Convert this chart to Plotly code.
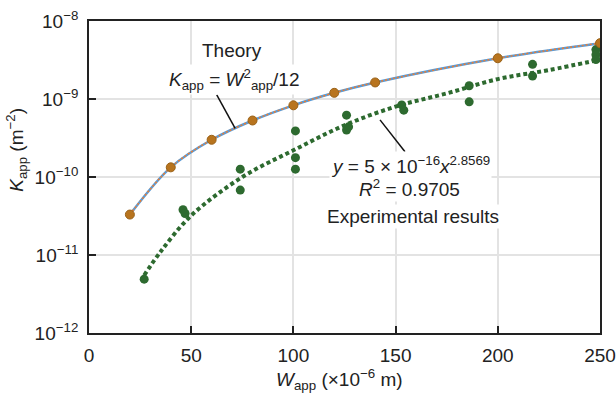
import plotly.graph_objects as go

# ---- data ----
theory_w = [20, 40, 60, 80, 100, 120, 140, 200, 250]
theory_k = [3.3e-11, 1.33e-10, 3.0e-10, 5.3e-10, 8.3e-10, 1.2e-9, 1.63e-9, 3.33e-9, 5.2e-9]

exp_w = [27, 46, 47, 74, 74, 101, 101, 101, 126, 126, 127, 153, 154, 186, 186, 217, 217, 248, 248, 248]
exp_k = [4.9e-12, 3.8e-11, 3.4e-11, 1.26e-10, 6.8e-11, 3.9e-10, 1.77e-10, 1.26e-10,
         6.2e-10, 4.0e-10, 4.4e-10, 8.4e-10, 7.2e-10, 1.48e-9, 9.2e-10, 2.78e-9, 1.97e-9,
         4.3e-9, 3.7e-9, 3.2e-9]

trend_w = [27, 35, 50, 75, 100, 125, 150, 175, 200, 225, 250]
trend_k = [5.5e-12, 1.1e-11, 3.2e-11, 1.0e-10, 2.2e-10, 4.6e-10, 8.0e-10, 1.18e-9, 1.8e-9, 2.35e-9, 3.2e-9]

x_ticks = [0, 50, 100, 150, 200, 250]
y_ticks = [1e-12, 1e-11, 1e-10, 1e-9, 1e-8]
y_ticktext = ["10<sup>−12</sup>", "10<sup>−11</sup>", "10<sup>−10</sup>", "10<sup>−9</sup>", "10<sup>−8</sup>"]

FONT = "Liberation Sans, Arial, Helvetica, sans-serif"
GREEN = "#2d6a2f"
ORANGE_PT = "#b8741e"
BLUE = "#5b9bd5"
ORANGE_LN = "#ed7d31"

fig = go.Figure()

# experimental trend line (dotted green)
fig.add_trace(go.Scatter(x=trend_w, y=trend_k, mode="lines",
                         line=dict(color=GREEN, width=4, dash="4px,3px", shape="spline"),
                         hoverinfo="skip", showlegend=False))
# experimental points
fig.add_trace(go.Scatter(x=exp_w, y=exp_k, mode="markers",
                         marker=dict(color=GREEN, size=9, line=dict(width=0)),
                         showlegend=False))
# theory line: blue solid + orange dotted overlay
fig.add_trace(go.Scatter(x=theory_w, y=theory_k, mode="lines",
                         line=dict(color=BLUE, width=2.5, shape="spline"),
                         hoverinfo="skip", showlegend=False))
fig.add_trace(go.Scatter(x=theory_w, y=theory_k, mode="lines",
                         line=dict(color=ORANGE_LN, width=1.5, dash="2px,2px", shape="spline"),
                         hoverinfo="skip", showlegend=False))
# theory points
fig.add_trace(go.Scatter(x=theory_w, y=theory_k, mode="markers",
                         marker=dict(color=ORANGE_PT, size=9, line=dict(color="#9a6218", width=1)),
                         showlegend=False))

axis_common = dict(showline=True, linecolor="#222222", linewidth=1.8, mirror=True,
                   ticks="inside", ticklen=7, tickwidth=1.5, tickcolor="#222222",
                   showgrid=True, gridcolor="#e3e3e3", gridwidth=2, zeroline=False,
                   automargin=False,
                   tickfont=dict(family=FONT, size=19, color="#222222"))

fig.update_xaxes(range=[0, 250], tickvals=x_ticks, ticklabelstandoff=4, **axis_common)
fig.update_yaxes(type="log", range=[-12, -8], tickvals=y_ticks, ticktext=y_ticktext,
                 ticklabelstandoff=5, **axis_common)

ann_font = dict(family=FONT, size=19, color="#222222")
annotations = [
    dict(text="Theory", x=0.280, y=0.907),
    dict(text="<i>K</i><sub>app</sub> = <i>W</i><sup>2</sup><sub>app</sub>/12", x=0.283, y=0.812),
    dict(text="<i>y</i> = 5 × 10<sup>−16</sup><i>x</i><sup>2.8569</sup>", x=0.630, y=0.540),
    dict(text="<i>R</i><sup>2</sup> = 0.9705", x=0.628, y=0.464),
    dict(text="Experimental results", x=0.634, y=0.375),
]
for a in annotations:
    fig.add_annotation(xref="paper", yref="paper", xanchor="center", yanchor="middle",
                       showarrow=False, font=ann_font, bgcolor="white", borderpad=1, **a)

# axis titles
fig.add_annotation(xref="paper", yref="paper", x=-0.141, y=0.587, textangle=-90,
                   xanchor="center", yanchor="middle", showarrow=False, font=ann_font,
                   text="<i>K</i><sub>app</sub> (m<sup>−2</sup>)")
fig.add_annotation(xref="paper", yref="paper", x=0.49, y=-0.150,
                   xanchor="center", yanchor="middle", showarrow=False, font=ann_font,
                   text="<i>W</i><sub>app</sub> (×10<sup>−6</sup> m)")

# leader lines
fig.add_shape(type="line", xref="paper", yref="paper", x0=0.250, y0=0.763, x1=0.286, y1=0.656,
              line=dict(color="#111111", width=1.5))
fig.add_shape(type="line", xref="paper", yref="paper", x0=0.5695, y0=0.683, x1=0.6184, y1=0.581,
              line=dict(color="#111111", width=1.5))

fig.update_layout(width=616, height=396, margin=dict(l=89, r=16, t=21, b=63),
                  paper_bgcolor="white", plot_bgcolor="white", showlegend=False,
                  font=dict(family=FONT))

fig.write_html("out.html")
